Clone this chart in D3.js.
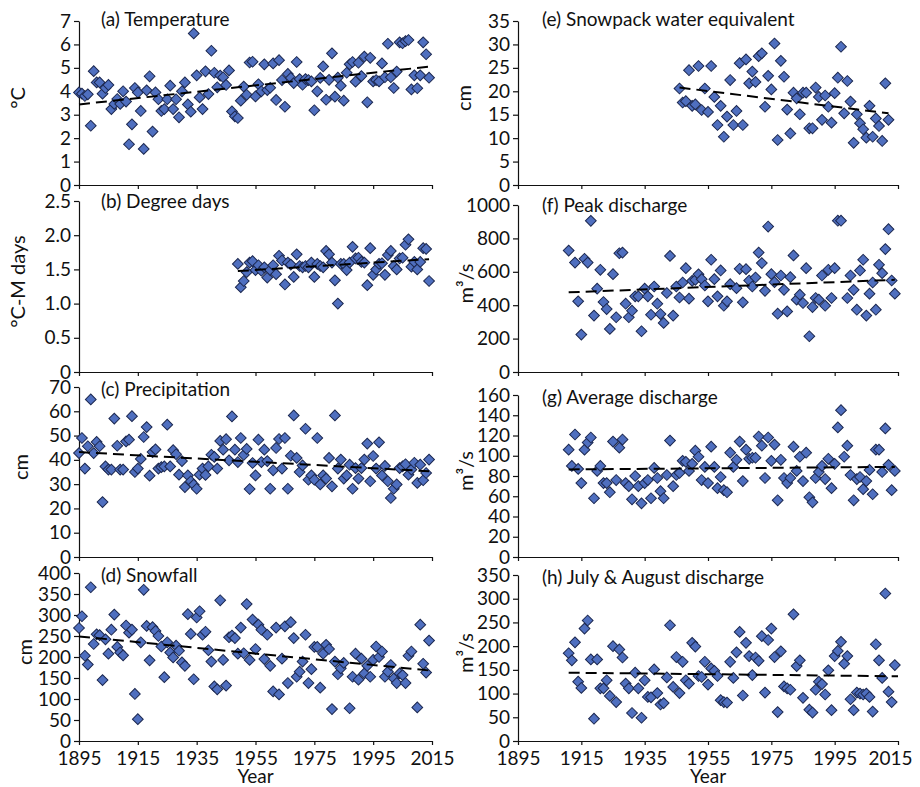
<!DOCTYPE html>
<html>
<head>
<meta charset="utf-8">
<script src="https://cdn.jsdelivr.net/npm/d3@7"></script>
<style>
body { margin: 0; background: #fff; }
svg text { font-family: Lato, "Open Sans", sans-serif; fill: #111; }
</style>
</head>
<body>
<svg id="chart" width="920" height="787"></svg>
<script>
// ---- data: [year, value] ----
var temperature = [[1895,3.95],[1896,3.9],[1897,3.8],[1898,3.87],[1899,2.53],[1900,4.86],[1901,4.38],[1902,4.38],[1903,3.9],[1904,4.14],[1905,4.27],[1906,3.24],[1907,3.46],[1908,3.67],[1909,3.46],[1910,4.0],[1911,3.56],[1912,1.74],[1913,2.59],[1914,4.14],[1915,3.95],[1916,3.16],[1917,1.54],[1918,4.04],[1919,4.64],[1920,2.28],[1921,3.95],[1922,3.66],[1923,3.16],[1924,3.24],[1925,3.66],[1926,4.24],[1927,3.24],[1928,3.66],[1929,2.89],[1930,4.0],[1931,4.38],[1932,3.44],[1933,3.13],[1934,6.47],[1935,4.68],[1936,3.74],[1937,3.24],[1938,4.85],[1939,3.88],[1940,5.73],[1941,4.79],[1942,4.17],[1943,4.67],[1944,4.6],[1945,4.27],[1946,4.89],[1947,3.14],[1948,2.93],[1949,2.86],[1950,3.6],[1951,4.2],[1952,3.85],[1953,5.23],[1954,5.26],[1955,3.78],[1956,4.3],[1957,4.0],[1958,5.15],[1959,4.05],[1960,4.15],[1961,5.19],[1962,3.63],[1963,5.33],[1964,4.48],[1965,3.34],[1966,4.74],[1967,4.57],[1968,4.35],[1969,5.25],[1970,4.52],[1971,4.28],[1972,4.52],[1973,4.48],[1974,4.42],[1975,3.19],[1976,4.0],[1977,4.57],[1978,5.06],[1979,3.64],[1980,4.49],[1981,5.62],[1982,3.77],[1983,4.58],[1984,4.24],[1985,3.6],[1986,4.79],[1987,5.15],[1988,5.25],[1989,4.41],[1990,5.22],[1991,4.65],[1992,5.48],[1993,3.53],[1994,5.43],[1995,4.42],[1996,4.48],[1997,4.42],[1998,5.19],[1999,4.6],[2000,6.03],[2001,4.6],[2002,4.14],[2003,4.84],[2004,6.09],[2005,6.05],[2006,6.14],[2007,6.19],[2008,4.08],[2009,4.68],[2010,4.13],[2011,4.68],[2012,6.09],[2013,5.58],[2014,4.58]];

var degreeDays = [[1949,1.58],[1950,1.24],[1951,1.33],[1952,1.46],[1953,1.60],[1954,1.62],[1955,1.49],[1956,1.56],[1957,1.48],[1958,1.53],[1959,1.38],[1960,1.49],[1961,1.56],[1962,1.43],[1963,1.70],[1964,1.63],[1965,1.28],[1966,1.60],[1967,1.57],[1968,1.39],[1969,1.72],[1970,1.55],[1971,1.53],[1972,1.55],[1973,1.53],[1974,1.60],[1975,1.39],[1976,1.58],[1977,1.55],[1978,1.53],[1979,1.77],[1980,1.72],[1981,1.60],[1982,1.34],[1983,1.00],[1984,1.58],[1985,1.58],[1986,1.49],[1987,1.60],[1988,1.83],[1989,1.66],[1990,1.67],[1991,1.61],[1992,1.60],[1993,1.27],[1994,1.81],[1995,1.42],[1996,1.50],[1997,1.58],[1998,1.59],[1999,1.42],[2000,1.71],[2001,1.77],[2002,1.55],[2003,1.50],[2004,1.66],[2005,1.67],[2006,1.86],[2007,1.94],[2008,1.54],[2009,1.61],[2010,1.50],[2011,1.61],[2012,1.81],[2013,1.80],[2014,1.33]];

var precipitation = [[1895,42.8],[1896,49],[1897,36.4],[1898,45.6],[1899,64.9],[1900,42.8],[1901,47.4],[1902,45.6],[1903,22.6],[1904,37.3],[1905,36],[1906,36],[1907,57],[1908,45.8],[1909,36],[1910,36],[1911,47.6],[1912,48.3],[1913,58],[1914,35],[1915,36.4],[1916,40.4],[1917,49.4],[1918,53.5],[1919,33.5],[1920,43.2],[1921,44.3],[1922,36.4],[1923,37],[1924,37.3],[1925,54.5],[1926,37.3],[1927,44],[1928,42.3],[1929,33.9],[1930,39.5],[1931,28.8],[1932,33.6],[1933,31.2],[1934,29.8],[1935,28.1],[1936,33.9],[1937,36.4],[1938,33.8],[1939,37.3],[1940,42.1],[1941,41.2],[1942,36.4],[1943,47.8],[1944,44.2],[1945,48.5],[1946,39.8],[1947,57.9],[1948,44.2],[1949,39.1],[1950,49],[1951,42],[1952,44.5],[1953,28],[1954,38.7],[1955,33.6],[1956,48.3],[1957,39.1],[1958,44.2],[1959,39.5],[1960,28.1],[1961,35.7],[1962,44.9],[1963,48.6],[1964,36.4],[1965,49],[1966,28.1],[1967,41.7],[1968,58.3],[1969,40.8],[1970,35],[1971,37.7],[1972,52.8],[1973,31.8],[1974,33.6],[1975,31.8],[1976,49],[1977,29.9],[1978,33.6],[1979,32.3],[1980,40.8],[1981,29.1],[1982,58.3],[1983,36.4],[1984,40.1],[1985,32.3],[1986,33.6],[1987,38],[1988,28.1],[1989,36.6],[1990,32.3],[1991,36.6],[1992,40.1],[1993,46.7],[1994,31.2],[1995,41.6],[1996,36.4],[1997,47.2],[1998,33.6],[1999,37.5],[2000,31.2],[2001,24.3],[2002,28.1],[2003,29.9],[2004,36.6],[2005,37.3],[2006,38.2],[2007,33.9],[2008,36],[2009,38.8],[2010,30.5],[2011,38],[2012,31.6],[2013,34.6],[2014,40.1]];

var snowfall = [[1895,269],[1896,297],[1897,203],[1898,182],[1899,366],[1900,231],[1901,254],[1902,252],[1903,145],[1904,242],[1905,208],[1906,265],[1907,301],[1908,224],[1909,211],[1910,204],[1911,275],[1912,258],[1913,265],[1914,112],[1915,52],[1916,235],[1917,360],[1918,274],[1919,192],[1920,271],[1921,262],[1922,250],[1923,225],[1924,152],[1925,235],[1926,211],[1927,199],[1928,227],[1929,215],[1930,187],[1931,179],[1932,302],[1933,255],[1934,147],[1935,294],[1936,309],[1937,253],[1938,260],[1939,216],[1940,189],[1941,130],[1942,123],[1943,335],[1944,193],[1945,132],[1946,247],[1947,251],[1948,245],[1949,208],[1950,270],[1951,209],[1952,326],[1953,193],[1954,289],[1955,219],[1956,277],[1957,265],[1958,195],[1959,253],[1960,179],[1961,118],[1962,270],[1963,111],[1964,196],[1965,273],[1966,138],[1967,283],[1968,245],[1969,153],[1970,165],[1971,189],[1972,253],[1973,138],[1974,171],[1975,224],[1976,224],[1977,127],[1978,208],[1979,229],[1980,219],[1981,76],[1982,189],[1983,159],[1984,173],[1985,186],[1987,78],[1988,153],[1989,208],[1990,146],[1991,196],[1992,161],[1993,179],[1994,153],[1995,193],[1996,225],[1997,200],[1998,213],[1999,153],[2000,165],[2001,181],[2002,149],[2003,138],[2004,161],[2005,157],[2006,138],[2007,203],[2008,213],[2010,80],[2011,277],[2012,184],[2013,163],[2014,239]];

var snowpackStart = 1946;
var snowpack = [20.6,17.6,17.9,24.5,16.9,17.2,25.4,16.0,20.6,15.6,25.4,18.8,12.8,16.9,10.3,14.6,22.4,12.8,15.8,26.0,12.8,26.8,21.7,24.2,22.0,27.5,28.1,16.7,23.3,20.4,30.2,9.6,26.5,23.1,16.1,11.0,19.7,18.5,15.1,19.7,19.7,12.1,12.1,20.8,18.8,13.9,19.1,16.7,13.3,19.6,22.9,29.5,15.3,22.2,17.8,9.0,15.1,13.2,11.9,10.1,16.9,10.3,14.2,12.6,9.4,21.7,13.9];

var peakDischarge = [[1911,727],[1913,655],[1914,423],[1915,224],[1916,678],[1917,655],[1918,905],[1919,338],[1920,499],[1921,612],[1922,419],[1923,377],[1924,258],[1925,586],[1926,328],[1927,711],[1928,715],[1929,409],[1930,328],[1931,367],[1932,453],[1933,453],[1934,244],[1935,499],[1936,453],[1937,343],[1938,512],[1939,409],[1940,347],[1941,294],[1942,473],[1943,695],[1944,338],[1945,512],[1946,446],[1947,536],[1948,622],[1949,439],[1950,546],[1951,552],[1952,585],[1953,556],[1954,518],[1955,423],[1956,672],[1957,556],[1958,453],[1959,608],[1960,397],[1961,423],[1962,526],[1964,502],[1965,618],[1966,417],[1967,616],[1968,548],[1969,512],[1970,566],[1971,715],[1972,652],[1973,486],[1974,871],[1975,586],[1976,538],[1977,349],[1978,578],[1979,492],[1980,363],[1981,568],[1982,698],[1983,433],[1984,463],[1985,413],[1986,622],[1987,214],[1988,389],[1989,443],[1990,433],[1991,578],[1992,397],[1993,612],[1994,443],[1995,622],[1996,906],[1997,906],[1999,443],[2000,578],[2001,492],[2002,373],[2003,608],[2004,672],[2005,338],[2006,469],[2007,536],[2008,373],[2009,642],[2010,592],[2011,736],[2012,855],[2013,548],[2014,469]];

var avgDischargeStart = 1911;
var avgDischarge = [106,90,121,87,73,106,113,118,58,85,90,73,73,64,114,76,108,116,73,70,57,80,70,53,73,76,58,88,78,65,58,81,115,70,81,83,95,94,85,92,105,99,76,89,73,109,89,68,79,66,64,103,89,96,114,75,106,97,98,98,119,110,78,118,95,111,56,96,78,73,78,109,85,99,75,103,59,54,78,84,90,77,97,68,92,128,145,99,110,81,56,77,79,67,75,86,62,106,106,84,127,91,66,85];

var julyAugust = [[1911,185],[1912,170],[1913,208],[1914,125],[1915,112],[1916,237],[1917,254],[1918,172],[1919,47],[1920,172],[1921,111],[1922,111],[1923,128],[1924,95],[1925,200],[1926,82],[1927,193],[1928,176],[1929,121],[1930,111],[1931,59],[1932,144],[1933,111],[1934,49],[1935,128],[1936,93],[1937,92],[1938,151],[1939,101],[1940,77],[1941,80],[1942,134],[1943,244],[1944,114],[1945,177],[1946,101],[1947,167],[1948,128],[1949,121],[1950,207],[1951,199],[1952,137],[1953,135],[1954,167],[1955,119],[1956,153],[1957,148],[1958,137],[1959,86],[1960,82],[1961,81],[1962,167],[1963,133],[1964,187],[1965,230],[1966,96],[1967,207],[1968,179],[1969,139],[1970,176],[1971,169],[1972,221],[1973,102],[1974,213],[1975,237],[1976,177],[1977,61],[1978,189],[1979,115],[1980,111],[1981,108],[1982,267],[1983,158],[1984,170],[1985,91],[1987,66],[1988,60],[1989,108],[1990,125],[1991,120],[1992,98],[1993,149],[1994,65],[1995,179],[1996,190],[1997,209],[1998,163],[1999,179],[2000,88],[2001,65],[2002,102],[2003,100],[2004,98],[2005,100],[2006,93],[2007,62],[2008,204],[2009,170],[2010,133],[2011,311],[2012,104],[2013,82],[2014,160]];

// trend line end points (as drawn in the figure)
var trendTemperature = [[1895,3.44],[2014,5.05]];
var trendDegreeDays = [[1949,1.475],[2014,1.65]];
var trendPrecipitation = [[1895,43.2],[2014,35.3]];
var trendSnowfall = [[1895,249],[2014,168]];
var trendSnowpack = [[1946,20.8],[2012,15.3]];
var trendPeak = [[1911,477],[2014,552]];
var trendAverage = [[1911,86.5],[2014,89]];
var trendJulyAug = [[1911,144],[2015,136.5]];

var yearTicks = [1895, 1915, 1935, 1955, 1975, 1995, 2015];

function fromStart(start, vals) {
  return vals.map(function(v, i) { return [start + i, v]; });
}

var plain = function(d) { return String(d); };
var one = function(d) { return d === 0 ? "0" : d.toFixed(1); };

var panels = [
  {title:"(a) Temperature", unit:"°C", data:temperature, trend:trendTemperature, yMax:7, step:1, col:0, row:0, lx:18},
  {title:"(b) Degree days", unit:"°C-M days", data:degreeDays, trend:trendDegreeDays, yMax:2.5, step:0.5, fmt:one, col:0, row:1, lx:18},
  {title:"(c) Precipitation", unit:"cm", data:precipitation, trend:trendPrecipitation, yMax:70, step:10, col:0, row:2, lx:21},
  {title:"(d) Snowfall", unit:"cm", data:snowfall, trend:trendSnowfall, yMax:400, step:50, col:0, row:3, lx:25},
  {title:"(e) Snowpack water equivalent", unit:"cm", data:fromStart(snowpackStart, snowpack), trend:trendSnowpack, yMax:35, step:5, col:1, row:0, lx:464},
  {title:"(f) Peak discharge", unit:"m³/s", data:peakDischarge, trend:trendPeak, yMax:1000, step:200, col:1, row:1, lx:466},
  {title:"(g) Average discharge", unit:"m³/s", data:fromStart(avgDischargeStart, avgDischarge), trend:trendAverage, yMax:160, step:20, col:1, row:2, lx:466},
  {title:"(h) July & August discharge", unit:"m³/s", data:julyAugust, trend:trendJulyAug, yMax:350, step:50, col:1, row:3, lx:466}
];

var colX = [[79, 432], [518, 898]];
var rowY = [
  [[21,185],[201,372],[387,557],[573,741]],
  [[21,185],[205,372],[395,557],[575,741]]
];

var svg = d3.select("#chart");

panels.forEach(function(p) {
  var xr = colX[p.col], yr = rowY[p.col][p.row];
  var x = d3.scaleLinear().domain([1895, 2015]).range(xr);
  var y = d3.scaleLinear().domain([0, p.yMax]).range([yr[1], yr[0]]);
  var g = svg.append("g");

  var yAxis = d3.axisLeft(y)
    .tickValues(d3.range(0, p.yMax + p.step / 2, p.step))
    .tickSize(5).tickSizeOuter(0).tickPadding(3)
    .tickFormat(p.fmt || plain);
  var ya = g.append("g").attr("transform", "translate(" + xr[0] + ",0)").call(yAxis);

  var bottom = p.row == 3;
  var xAxis = d3.axisBottom(x).tickValues(yearTicks).tickSize(4).tickSizeOuter(0).tickPadding(7)
    .tickFormat(bottom ? plain : "");
  var xa = g.append("g").attr("transform", "translate(0," + yr[1] + ")").call(xAxis);

  [ya, xa].forEach(function(a) {
    a.selectAll("path, line").attr("stroke", "#111").attr("stroke-width", 1.2);
    a.selectAll("text").attr("font-size", 19).attr("fill", "#111")
      .attr("font-family", "Lato, 'Open Sans', sans-serif");
  });
  // last year label on the right column sits a bit inside the page edge
  if (bottom && p.col == 1) {
    xa.selectAll(".tick text").filter(function(d) { return d == 2015; }).attr("dx", -8);
  }

  // title
  g.append("text")
    .attr("x", xr[0] + (p.col ? 24 : 22))
    .attr("y", yr[0] + (p.row == 0 ? 5 : (p.row == 1 ? 7 : 9)))
    .attr("font-size", 19)
    .text(p.title);

  // y label
  g.append("text")
    .attr("transform", "translate(" + p.lx + "," + ((yr[0] + yr[1]) / 2 - 5) + ") rotate(-90)")
    .attr("text-anchor", "middle")
    .attr("dy", "0.35em")
    .attr("font-size", 20)
    .text(p.unit);

  // points
  g.selectAll("path.pt")
    .data(p.data)
    .enter().append("path")
    .attr("class", "pt")
    .attr("d", d3.symbol(d3.symbolSquare, 58))
    .attr("transform", function(d) { return "translate(" + x(d[0]) + "," + y(d[1]) + ") rotate(45)"; })
    .attr("fill", "#4f6fbf")
    .attr("stroke", "#1c2850")
    .attr("stroke-width", 1);

  // trend
  g.append("path")
    .datum(p.trend)
    .attr("d", d3.line().x(function(d) { return x(d[0]); }).y(function(d) { return y(d[1]); }))
    .attr("fill", "none")
    .attr("stroke", "#000")
    .attr("stroke-width", 2)
    .attr("stroke-dasharray", "11,6");

  if (bottom) {
    g.append("text")
      .attr("x", (xr[0] + xr[1]) / 2)
      .attr("y", 783)
      .attr("text-anchor", "middle")
      .attr("font-size", 19)
      .text("Year");
  }
});
</script>
</body>
</html>
